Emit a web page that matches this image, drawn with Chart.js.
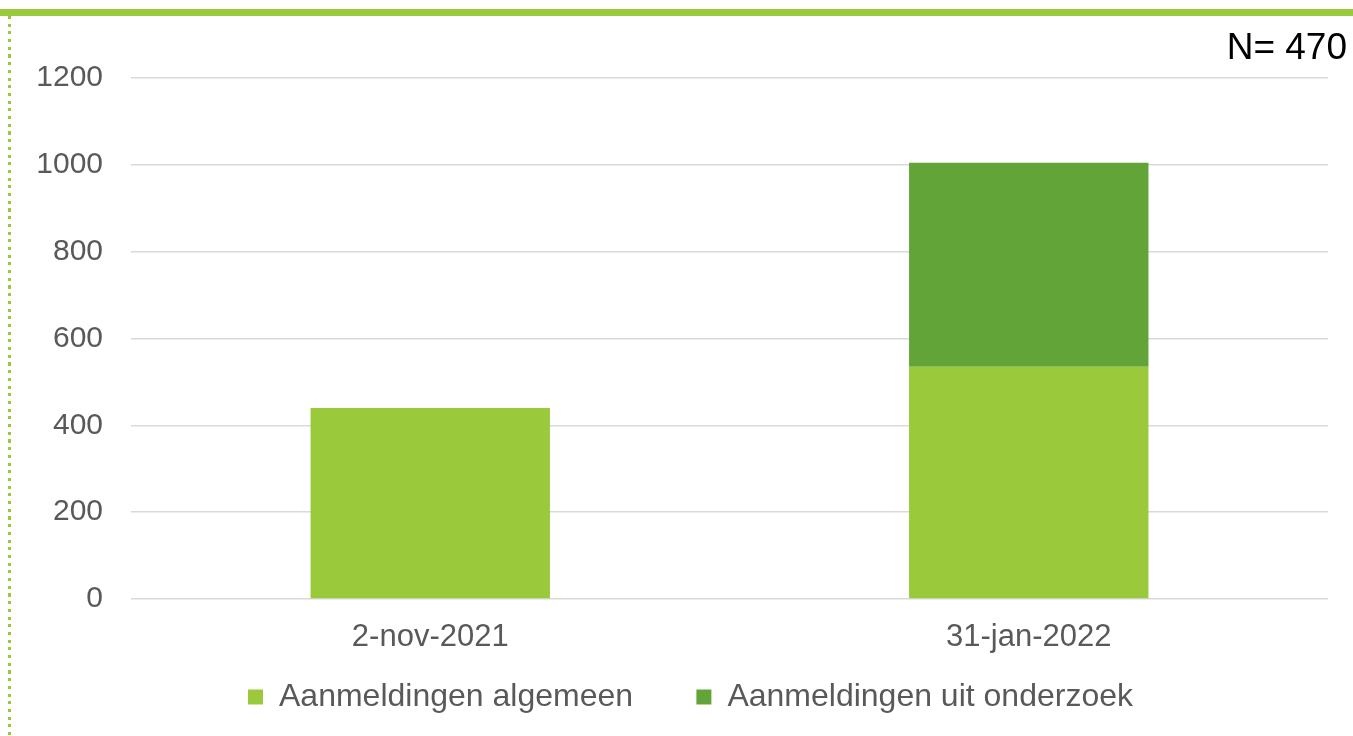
<!DOCTYPE html>
<html>
<head>
<meta charset="utf-8">
<script src="https://cdn.jsdelivr.net/npm/chart.js@4/dist/chart.umd.min.js"></script>
<style>
  body { margin: 0; overflow: hidden; background: #ffffff; }
  #wrap { position: relative; width: 1353px; height: 736px; }
  #topbar { position: absolute; left: 0; top: 9px; width: 1353px; height: 7px; background: #9ACA3C; }
  #leftdots { position: absolute; left: 8px; top: 16px; width: 3px; height: 720px;
    background: repeating-linear-gradient(to bottom, #9ACA3C 0px, #9ACA3C 3px, transparent 3px, transparent 7.7px); }
  canvas { position: absolute; left: 0; top: 0; }
</style>
</head>
<body>
<div id="wrap">
  <div id="topbar"></div>
  <div id="leftdots"></div>
  <canvas id="myChart" width="1353" height="736"></canvas>
</div>
<script>
var categories = ['2-nov-2021', '31-jan-2022'];
var algemeen = [440, 535];
var onderzoek = [0, 470];
var seriesNames = ['Aanmeldingen algemeen', 'Aanmeldingen uit onderzoek'];
var yTicks = [0, 200, 400, 600, 800, 1000, 1200];
var nLabel = 'N= 470';

var greyText = '#595959';
var fontFamily = '"Liberation Sans", Arial, sans-serif';

// draws the "N= 470" note in the top right corner
var nNote = {
  id: 'nNote',
  afterDraw: function(chart) {
    var c = chart.ctx;
    c.save();
    c.font = '37px ' + fontFamily;
    c.fillStyle = '#000000';
    c.textAlign = 'right';
    c.textBaseline = 'alphabetic';
    c.fillText(nLabel, 1347, 59);
    c.restore();
  }
};

// the legend in the original is centred a bit right of the canvas centre
var legendShift = {
  id: 'legendShift',
  afterLayout: function(chart) {
    if (chart.legend) chart.legend.left = 53;
  }
};

var ctx = document.getElementById('myChart').getContext('2d');
var myChart = new Chart(ctx, {
    type: 'bar',
    data: {
        labels: categories,
        datasets: [{
            label: seriesNames[0],
            data: algemeen,
            backgroundColor: '#9ACA3C',
            borderWidth: 0,
            barPercentage: 0.4,
            categoryPercentage: 1.0},
        {
            label: seriesNames[1],
            data: onderzoek,
            backgroundColor: '#63A439',
            borderWidth: 0,
            barPercentage: 0.4,
            categoryPercentage: 1.0}
        ]
    },
    options: {
      responsive: false,
      animation: false,
      layout: {
        padding: { left: 0, right: 25, top: 78, bottom: 13 }
      },
      plugins: {
          tooltip: { enabled: false },
          legend: {
              display: true,
              position: 'bottom',
              labels: {
                  color: greyText,
                  font: { family: fontFamily, size: 32 },
                  boxWidth: 15,
                  boxHeight: 15,
                  padding: 10,
                  generateLabels: function(chart) {
                      var items = Chart.defaults.plugins.legend.labels.generateLabels(chart);
                      // extra room between the two legend entries
                      items[0].text = items[0].text + '\u00a0\u00a0\u00a0\u00a0\u00a0\u00a0';
                      return items;
                  }
              }
          },
      },
      scales: {
        x: {
          stacked: true,
          grid: { display: false, drawTicks: false },
          border: { display: false },
          ticks: {
            color: greyText,
            padding: 20,
            font: { family: fontFamily, size: 31 }
          },
          afterFit: function(scale) { scale.height = 72; }
        },
        y: {
          stacked: true,
          min: 0,
          max: 1200,
          afterBuildTicks: function(scale) {
            scale.ticks = yTicks.map(function(v) { return { value: v }; });
          },
          grid: { color: '#D9D9D9', lineWidth: 1.5, drawTicks: false },
          border: { display: false },
          ticks: {
            color: greyText,
            padding: 28,
            font: { family: fontFamily, size: 30 },
            callback: function(value) { return String(value); }
          },
          afterFit: function(scale) { scale.width = 131; }
        }
      }
    },
    plugins: [nNote, legendShift]
  });
</script>
</body>
</html>
